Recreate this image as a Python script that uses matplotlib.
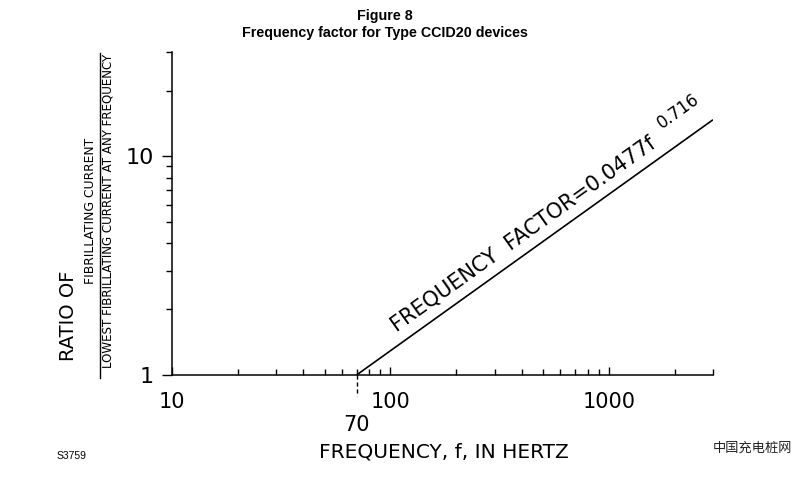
import numpy as np
import matplotlib
matplotlib.use("Agg")
import matplotlib.pyplot as plt
import matplotlib.transforms as mtransforms
from matplotlib.ticker import LogLocator, NullFormatter, FixedLocator, FixedFormatter

# data
freq = [70, 3000]          # Hz
factor = [1.0, 14.7]       # frequency factor at those frequencies
start_freq = 70
x_ticks = [10, 100, 1000]
x_tick_labels = ["10", "100", "1000"]
y_ticks = [1, 10]
y_tick_labels = ["1", "10"]
coef_text = "FREQUENCY  FACTOR=0.0477f"
exp_text = "0.716"

plt.rcParams['font.family'] = ['DejaVu Sans']

W, H = 800, 479
fig = plt.figure(figsize=(W / 100, H / 100), dpi=100)
ax = fig.add_axes([172 / W, 1 - 375 / H, (713 - 172) / W, (375 - 52) / H])

ax.set_xscale("log")
ax.set_yscale("log")
ax.set_xlim(10, 3000)
ax.set_ylim(1, 30)

ax.plot(freq, factor, color="black", lw=1.2, solid_capstyle="butt")

# dashed marker below the start frequency
trans = mtransforms.blended_transform_factory(ax.transData, ax.transAxes)
ax.plot([start_freq, start_freq], [0, -0.065], transform=trans, color="black",
        lw=1, ls=(0, (3, 2)), clip_on=False)
ax.text(start_freq, -0.155, str(start_freq), transform=trans, ha="center",
        va="center", fontsize=15)

for s in ["top", "right"]:
    ax.spines[s].set_visible(False)
for s in ["left", "bottom"]:
    ax.spines[s].set_linewidth(1.1)

ax.xaxis.set_major_locator(FixedLocator(x_ticks))
ax.xaxis.set_major_formatter(FixedFormatter(x_tick_labels))
ax.xaxis.set_minor_locator(LogLocator(base=10, subs=np.arange(2, 10)))
ax.xaxis.set_minor_formatter(NullFormatter())
ax.yaxis.set_major_locator(FixedLocator(y_ticks))
ax.yaxis.set_major_formatter(FixedFormatter(y_tick_labels))
ax.yaxis.set_minor_locator(LogLocator(base=10, subs=np.arange(2, 10)))
ax.yaxis.set_minor_formatter(NullFormatter())

ax.tick_params(axis="x", which="major", direction="in", length=6, width=1,
               labelsize=15, pad=12)
ax.tick_params(axis="x", which="minor", direction="in", length=4, width=1)
ax.tick_params(axis="y", which="major", direction="out", length=7, width=1,
               labelsize=16, pad=6)
ax.tick_params(axis="y", which="minor", direction="out", length=4, width=1)

# equation along the line
ax.text(107, 1.57, coef_text, rotation=35.5, rotation_mode="anchor",
        ha="left", va="baseline", fontsize=15)
ax.text(1750, 13.3, exp_text, rotation=35.5, rotation_mode="anchor",
        ha="left", va="baseline", fontsize=12)

# axis labels
fig.text(444 / W, 1 - 452 / H, "FREQUENCY, f, IN HERTZ", ha="center",
         va="center", fontsize=14.5)
fig.text(68 / W, 1 - 316 / H, "RATIO OF", rotation=90, ha="center",
         va="center", fontsize=14)
fig.text(91 / W, 1 - 211 / H, "FIBRILLATING CURRENT", rotation=90,
         ha="center", va="center", fontsize=8.9)
fig.text(108 / W, 1 - 211 / H, "LOWEST FIBRILLATING CURRENT AT ANY FREQUENCY",
         rotation=90, ha="center", va="center", fontsize=8.6)
fig.add_artist(plt.Line2D([100 / W, 100 / W], [1 - 53 / H, 1 - 378 / H],
                          color="black", lw=1))

# titles and marks
fig.text(385 / W, 1 - 16 / H, "Figure 8", ha="center", va="center",
         fontsize=10.3, fontweight="bold", family="Liberation Sans")
fig.text(385 / W, 1 - 33 / H, "Frequency factor for Type CCID20 devices",
         ha="center", va="center", fontsize=10.3, fontweight="bold",
         family="Liberation Sans")
fig.text(72 / W, 1 - 456 / H, "S3759", ha="center", va="center", fontsize=7.5,
         family="Liberation Sans")
fig.text(752 / W, 1 - 448 / H, "中国充电桩网", ha="center", va="center",
         fontsize=9.5, color="#222222", family=["Noto Sans CJK SC", "DejaVu Sans"])

fig.savefig("out.png", dpi=100)
